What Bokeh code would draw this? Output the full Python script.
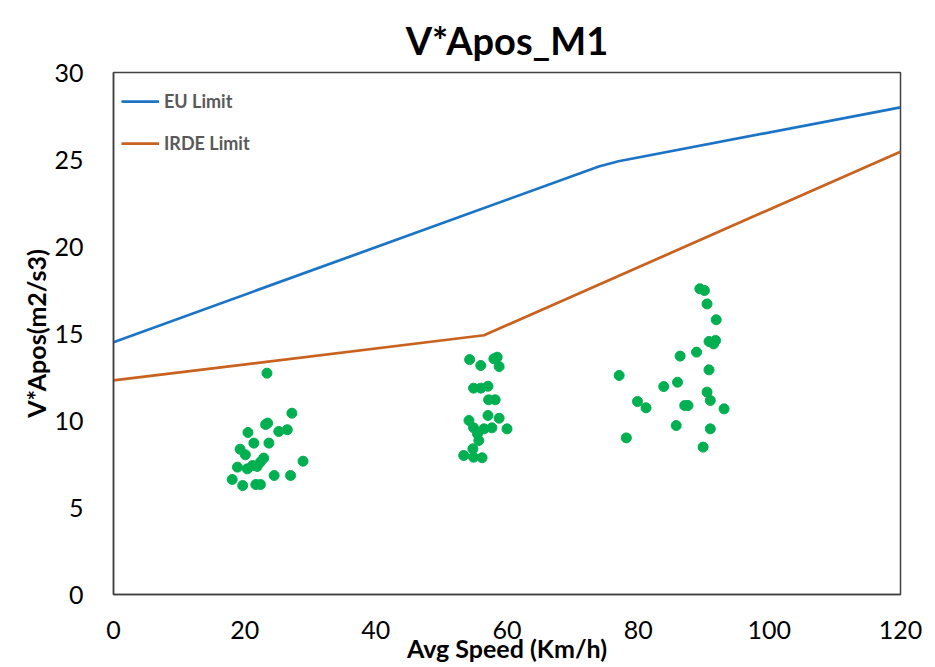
from bokeh.plotting import figure
from bokeh.models import Legend, LegendItem, Range1d, FixedTicker
from bokeh.embed import file_html
from bokeh.resources import INLINE

# Limit lines
eu_speed = [0, 74, 77, 120]
eu_limit = [14.5, 24.6, 24.9, 28.0]
irde_speed = [0, 56.5, 120]
irde_limit = [12.3, 14.9, 25.45]

# Measured points
speed = [
    23.4, 27.2, 23.2, 23.5, 20.5, 25.2, 26.5, 21.4, 23.7, 19.3, 20.1, 22.9, 22.4, 28.9,
    18.9, 20.4, 21.2, 21.9, 24.5, 27.0, 18.1, 19.7, 21.7, 22.4,
    54.3, 56.0, 58.0, 58.5, 58.8, 54.9, 56.0, 57.1, 57.2, 58.2, 57.1, 58.8, 54.2, 54.9,
    56.5, 57.7, 60.0, 55.5, 55.7, 54.8, 53.4, 54.9, 56.2,
    89.4, 90.1, 90.5, 91.9, 90.8, 91.8, 91.5, 88.9, 86.4, 77.1, 90.8, 86.0, 83.9, 90.5,
    91.0, 79.9, 81.2, 87.1, 87.6, 93.1, 85.8, 91.0, 78.2, 89.9,
]
vapos = [
    12.72, 10.42, 9.77, 9.85, 9.31, 9.37, 9.47, 8.70, 8.70, 8.35, 8.03, 7.84, 7.61, 7.66,
    7.32, 7.22, 7.41, 7.36, 6.84, 6.84, 6.61, 6.26, 6.32, 6.32,
    13.5, 13.16, 13.55, 13.64, 13.1, 11.86, 11.86, 11.97, 11.19, 11.19, 10.29, 10.13, 10.0, 9.58,
    9.52, 9.58, 9.52, 9.23, 8.85, 8.37, 7.99, 7.89, 7.86,
    17.57, 17.47, 16.7, 15.79, 14.54, 14.6, 14.4, 13.93, 13.7, 12.59, 12.91, 12.2, 11.95, 11.63,
    11.15, 11.09, 10.73, 10.86, 10.86, 10.67, 9.71, 9.52, 9.0, 8.47,
]

x_ticks = [0, 20, 40, 60, 80, 100, 120]
y_ticks = [0, 5, 10, 15, 20, 25, 30]

FONT = "Lato"

p = figure(width=927, height=665, output_backend="svg", toolbar_location=None,
           x_range=Range1d(0, 120), y_range=Range1d(0, 30),
           min_border_left=113, min_border_right=27, min_border_top=72, min_border_bottom=71)

p.title.text = "V*Apos_M1"
p.title.align = "center"
p.title.text_font = FONT
p.title.text_font_size = "38px"
p.title.text_font_style = "bold"
p.title.text_color = "#000000"
p.title.offset = 0
p.title.standoff = 19

p.outline_line_color = "#404040"
p.outline_line_width = 1.5
p.xgrid.visible = False
p.ygrid.visible = False

for ax in (p.xaxis[0], p.yaxis[0]):
    ax.major_tick_line_color = None
    ax.minor_tick_line_color = None
    ax.axis_line_color = "#404040"
    ax.axis_line_width = 1.5
    ax.major_label_text_font = FONT
    ax.major_label_text_font_size = "25px"
    ax.major_label_text_color = "#000000"
    ax.axis_label_text_font = FONT
    ax.axis_label_text_font_size = "25px"
    ax.axis_label_text_font_style = "bold"
    ax.axis_label_text_color = "#000000"

p.xaxis.ticker = FixedTicker(ticks=x_ticks)
p.yaxis.ticker = FixedTicker(ticks=y_ticks)
p.xaxis.axis_label = "Avg Speed (Km/h)"
p.yaxis.axis_label = "V*Apos(m2/s3)"
p.xaxis.major_label_standoff = 20
p.xaxis.axis_label_standoff = -9
p.yaxis.major_label_standoff = 24
p.yaxis.axis_label_standoff = 0

eu = p.line(eu_speed, eu_limit, line_color="#1C74C6", line_width=2.75)
irde = p.line(irde_speed, irde_limit, line_color="#C8621E", line_width=2.75)
p.scatter(speed, vapos, size=10, fill_color="#00B050", line_color="#00B050")

legend = Legend(items=[LegendItem(label="EU Limit", renderers=[eu]),
                       LegendItem(label="IRDE Limit", renderers=[irde])],
                location="top_left", border_line_color=None, background_fill_alpha=0,
                label_text_font=FONT, label_text_font_size="18px", label_text_font_style="bold",
                label_text_color="#595959", glyph_width=38, glyph_height=42, label_height=42,
                spacing=0, margin=8, padding=4, label_standoff=5)
p.add_layout(legend)

open("out.html", "w").write(file_html(p, INLINE))
